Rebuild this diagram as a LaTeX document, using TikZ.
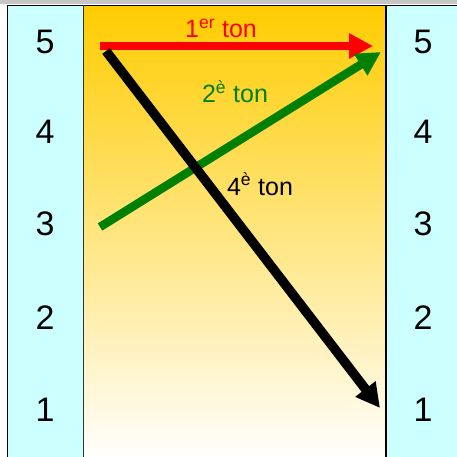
\documentclass[tikz,border=0pt]{standalone}
\usepackage{fontspec}
\setmainfont{Liberation Sans}
\usetikzlibrary{arrows.meta}
\definecolor{colcyan}{HTML}{CCFFFF}
\definecolor{gold}{HTML}{FFCC00}
\definecolor{peach}{HTML}{FDDC96}
\definecolor{tonred}{HTML}{FF0000}
\definecolor{tongreen}{HTML}{008000}
\tikzset{
  num/.style={font=\fontsize{34}{36}\selectfont, text=black, inner sep=0pt},
  lbl/.style={font=\fontsize{25}{27}\selectfont, inner sep=0pt, anchor=base},
  tonarrow/.style={line width=8.5pt, -{Triangle[length=24pt,width=24pt]}},
}
\begin{document}
\begin{tikzpicture}[x=1pt,y=-1pt]
\useasboundingbox (0,0) rectangle (457,457);
% top grey band
\fill[gray!45] (0,0) rectangle (457,4);
% columns
\fill[colcyan] (7.5,5.5) rectangle (83,460);
\shade[top color=gold, middle color=peach, bottom color=white] (83,5.5) rectangle (386,460);
\fill[colcyan] (386,5.5) rectangle (460,460);
\draw[line width=1.5pt] (7.5,460) -- (7.5,5.5) -- (460,5.5);
\draw[line width=1pt, black!80] (83,5.5) -- (83,460);
\draw[line width=1.5pt] (386,5.5) -- (386,460);
% numbers
\foreach \n/\y in {5/42, 4/132, 3/224, 2/318, 1/410}{
  \node[num] (L\n) at (45,\y) {\n};
  \node[num] (R\n) at (423,\y) {\n};
}
% arrows
\coordinate (s1) at (100,46);
\coordinate (e1) at (373,46);
\coordinate (s2) at (100,227);
\coordinate (e2) at (381,52);
\coordinate (s4) at (106,51);
\coordinate (e4) at (380,408);
\draw[tonarrow, tonred] (s1) -- (e1);
\draw[tonarrow, tongreen] (s2) -- (e2);
\draw[tonarrow, black, line width=9.5pt] (s4) -- (e4);
% labels
\node[lbl, text=tonred] (t1) at (221,38) {1\textsuperscript{er} ton};
\node[lbl, text=tongreen] (t2) at (235,103) {2\textsuperscript{è} ton};
\node[lbl, text=black] (t4) at (260,195) {4\textsuperscript{è} ton};
\end{tikzpicture}
\end{document}
